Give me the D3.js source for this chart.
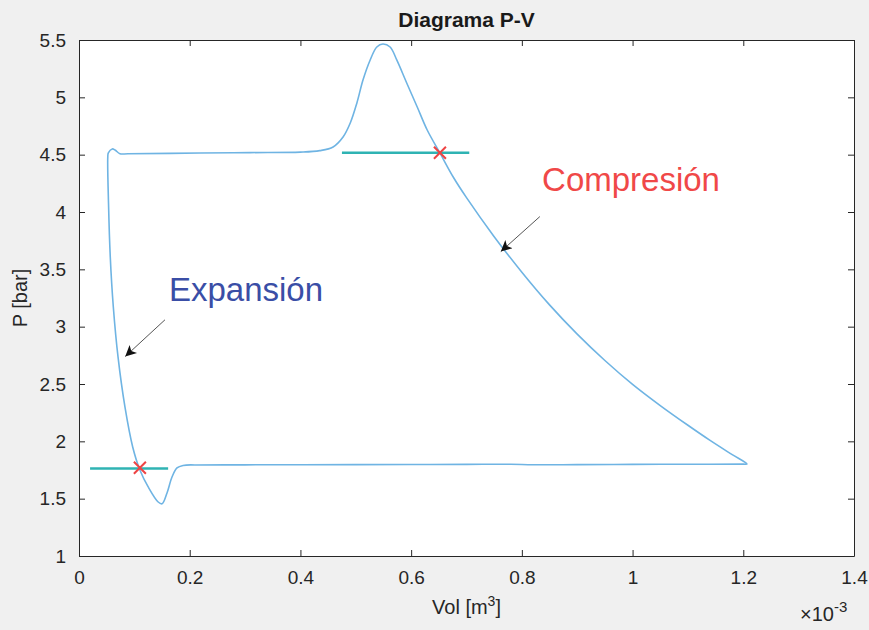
<!DOCTYPE html>
<html>
<head>
<meta charset="utf-8">
<script src="https://cdn.jsdelivr.net/npm/d3@7"></script>
<style>
  html, body { margin: 0; padding: 0; background: #f0f0f0; }
  svg { display: block; font-family: "Liberation Sans", Arial, sans-serif; }
</style>
</head>
<body>
<svg id="chart" width="869" height="630"></svg>
<script>
// Volume in units of 1e-3 m^3, pressure in bar
const cycleVol = [0.2095, 0.30, 0.40, 0.50, 0.60, 0.70, 0.78, 0.82, 0.90, 1.00, 1.10, 1.20, 1.2067,
  1.18, 1.14, 1.10, 1.05, 1.00, 0.95, 0.90, 0.85, 0.80, 0.75, 0.70, 0.676, 0.652,
  0.629, 0.611, 0.592, 0.574, 0.562, 0.549, 0.538, 0.526, 0.513, 0.502, 0.490, 0.477, 0.459, 0.435,
  0.40, 0.309, 0.219, 0.0885, 0.074, 0.065, 0.060, 0.053,
  0.052, 0.0535, 0.0565, 0.062, 0.0705, 0.083, 0.097, 0.110, 0.125, 0.143, 0.150, 0.159, 0.168, 0.177, 0.188, 0.2095];
const cyclePres = [1.794, 1.795, 1.796, 1.797, 1.798, 1.799, 1.800, 1.796, 1.797, 1.799, 1.800, 1.801, 1.802,
  1.884, 2.008, 2.140, 2.312, 2.497, 2.705, 2.935, 3.190, 3.475, 3.785, 4.125, 4.305, 4.515,
  4.715, 4.916, 5.125, 5.326, 5.439, 5.465, 5.439, 5.326, 5.151, 4.951, 4.776, 4.654, 4.567, 4.535,
  4.522, 4.518, 4.514, 4.508, 4.508, 4.541, 4.550, 4.515,
  4.480, 4.044, 3.608, 3.172, 2.736, 2.300, 1.951, 1.750, 1.602, 1.471, 1.455, 1.550, 1.689, 1.768, 1.790, 1.794];

const refLines = [
  { vol: [0.475, 0.705], pres: [4.517, 4.517] },
  { vol: [0.020, 0.161], pres: [1.762, 1.762] }
];
const markerVol = [0.652, 0.110];
const markerPres = [4.517, 1.770];

const xTicks = [0, 0.2, 0.4, 0.6, 0.8, 1, 1.2, 1.4];
const yTicks = [1, 1.5, 2, 2.5, 3, 3.5, 4, 4.5, 5, 5.5];

const annotations = [
  { text: "Compresión", color: "#f04848", tx: 0.8365, ty: 4.18, from: [0.8325, 3.96], to: [0.762, 3.655] },
  { text: "Expansión", color: "#3a4ea6", tx: 0.1625, ty: 3.22, from: [0.1553, 3.06], to: [0.0835, 2.74] }
];

const svg = d3.select("#chart");
const W = 869, H = 630;
const m = { left: 79, top: 40, right: 854, bottom: 556 };

const x = d3.scaleLinear().domain([0, 1.4]).range([m.left, m.right]);
const y = d3.scaleLinear().domain([1, 5.5]).range([m.bottom, m.top]);

svg.append("rect").attr("width", W).attr("height", H).attr("fill", "#f0f0f0");
svg.append("rect").attr("x", m.left).attr("y", m.top)
  .attr("width", m.right - m.left).attr("height", m.bottom - m.top).attr("fill", "#ffffff");

const axisColor = "#262626";
const tickFmt = d => d3.format("~g")(d);

// axes
const gx = svg.append("g").attr("transform", `translate(0,${m.bottom})`)
  .call(d3.axisBottom(x).tickValues(xTicks).tickFormat(tickFmt).tickSizeInner(-6).tickSizeOuter(0).tickPadding(14));
const gxTop = svg.append("g").attr("transform", `translate(0,${m.top})`)
  .call(d3.axisTop(x).tickValues(xTicks).tickFormat("").tickSizeInner(-6).tickSizeOuter(0));
const gy = svg.append("g").attr("transform", `translate(${m.left},0)`)
  .call(d3.axisLeft(y).tickValues(yTicks).tickFormat(tickFmt).tickSizeInner(-6).tickSizeOuter(0).tickPadding(13));
const gyR = svg.append("g").attr("transform", `translate(${m.right},0)`)
  .call(d3.axisRight(y).tickValues(yTicks).tickFormat("").tickSizeInner(-6).tickSizeOuter(0));

[gx, gxTop, gy, gyR].forEach(g => {
  g.select(".domain").attr("stroke", axisColor).attr("stroke-width", 1);
  g.selectAll(".tick line").attr("stroke", axisColor).attr("stroke-width", 1);
  g.selectAll(".tick text").attr("fill", axisColor).style("font-size", "19px")
    .style("font-family", "'Liberation Sans', Arial, sans-serif");
});
gx.selectAll(".tick text").attr("dy", "0.76em");

// curve
const line = d3.line().x(d => x(d[0])).y(d => y(d[1])).curve(d3.curveCatmullRom.alpha(0.5));
const cyclePts = cycleVol.map((v, i) => [v, cyclePres[i]]);
svg.append("path").datum(cyclePts).attr("d", line)
  .attr("fill", "none").attr("stroke", "#6fb4e3").attr("stroke-width", 1.6);

// reference lines
refLines.forEach(r => {
  svg.append("path").datum(r.vol.map((v, i) => [v, r.pres[i]]))
    .attr("d", d3.line().x(d => x(d[0])).y(d => y(d[1])))
    .attr("stroke", "#2fb3b3").attr("stroke-width", 2.5).attr("fill", "none");
});

// markers
markerVol.forEach((v, i) => {
  const cx = x(v), cy = y(markerPres[i]), s = 6;
  svg.append("path")
    .attr("d", `M${cx - s},${cy - s}L${cx + s},${cy + s}M${cx - s},${cy + s}L${cx + s},${cy - s}`)
    .attr("stroke", "#ee4444").attr("stroke-width", 2).attr("fill", "none");
});

// annotations
const defs = svg.append("defs");
defs.append("marker").attr("id", "ah").attr("viewBox", "0 0 10 10")
  .attr("refX", 10).attr("refY", 5).attr("markerWidth", 15).attr("markerHeight", 11)
  .attr("markerUnits", "userSpaceOnUse").attr("orient", "auto")
  .append("path").attr("d", "M0,0L10,5L0,10L2.5,5Z").attr("fill", "#111");

annotations.forEach(a => {
  svg.append("line")
    .attr("x1", x(a.from[0])).attr("y1", y(a.from[1]))
    .attr("x2", x(a.to[0])).attr("y2", y(a.to[1]))
    .attr("stroke", "#555").attr("stroke-width", 1).attr("marker-end", "url(#ah)");
  svg.append("text").attr("x", x(a.tx)).attr("y", y(a.ty))
    .attr("fill", a.color).style("font-size", "33px").text(a.text);
});

// title and labels
svg.append("text").attr("x", (m.left + m.right) / 2).attr("y", 27)
  .attr("text-anchor", "middle").attr("fill", "#1a1a1a")
  .style("font-size", "21px").style("font-weight", "bold").text("Diagrama P-V");

const xl = svg.append("text").attr("x", (m.left + m.right) / 2).attr("y", 614)
  .attr("text-anchor", "middle").attr("fill", axisColor).style("font-size", "20px");
xl.append("tspan").text("Vol [m");
xl.append("tspan").attr("dy", -8).style("font-size", "14px").text("3");
xl.append("tspan").attr("dy", 8).text("]");

svg.append("text").attr("transform", `translate(27,${(m.top + m.bottom) / 2}) rotate(-90)`)
  .attr("text-anchor", "middle").attr("fill", axisColor).style("font-size", "20px").text("P [bar]");

const ex = svg.append("text").attr("x", 800).attr("y", 621).attr("fill", axisColor).style("font-size", "20px");
ex.append("tspan").text("×10");
ex.append("tspan").attr("dy", -9).style("font-size", "15px").text("-3");
</script>
</body>
</html>
